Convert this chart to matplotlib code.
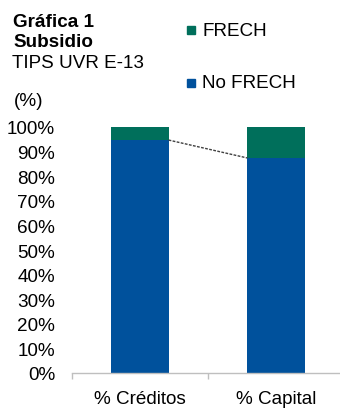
import matplotlib
matplotlib.use("Agg")
import matplotlib.pyplot as plt

categories = ["% Créditos", "% Capital"]
no_frech = [94.7, 87.4]
frech = [5.3, 12.6]
yticks = [0, 10, 20, 30, 40, 50, 60, 70, 80, 90, 100]

BLUE = "#00519C"
GREEN = "#006F5B"
FS = 13.6
plt.rcParams['font.family'] = ['Liberation Sans', 'DejaVu Sans']

W, H = 340, 410
fig = plt.figure(figsize=(W / 100, H / 100), dpi=100)
ax = fig.add_axes([72 / W, (H - 374) / H, 272 / W, 246 / H])

x = list(range(len(categories)))
bw = 0.42
ax.bar(x, no_frech, width=bw, color=BLUE, zorder=2)
ax.bar(x, frech, width=bw, bottom=no_frech, color=GREEN, zorder=2)

# series line between blue tops
ax.plot([x[0] + bw / 2, x[1] - bw / 2], [no_frech[0], no_frech[1]],
        color="#404040", lw=1.0, ls=(0, (2, 1)), zorder=3)

ax.set_xlim(-0.5, 1.5)
ax.set_ylim(0, 100)
ax.set_yticks(yticks)
ax.set_yticklabels([f"{v}%" for v in yticks], fontsize=FS)
ax.tick_params(axis='y', length=0, pad=12.2)
ax.set_xticks([-0.5, 0.5, 1.5])
ax.set_xticklabels([])
ax.set_xticks(x, minor=True)
ax.set_xticklabels(categories, minor=True, fontsize=FS)
ax.tick_params(axis='x', which='major', length=4.3, color="#BFBFBF", width=1)
ax.tick_params(axis='x', which='minor', length=0, pad=12.5)
for s in ["top", "right", "left"]:
    ax.spines[s].set_visible(False)
ax.spines["bottom"].set_color("#BFBFBF")
ax.spines["bottom"].set_linewidth(1)

# titles
fig.text(13 / W, 1 - 27 / H, "Gráfica 1", fontsize=FS, fontweight="bold", va="baseline")
fig.text(13 / W, 1 - 47 / H, "Subsidio", fontsize=FS, fontweight="bold", va="baseline")
fig.text(12 / W, 1 - 68.5 / H, "TIPS UVR E-13", fontsize=FS, va="baseline")
fig.text(14 / W, 1 - 102 / H, "(%)", fontsize=FS, va="center")

# legend
for yc, lab, col in [(31, "FRECH", GREEN), (84, "No FRECH", BLUE)]:
    fig.patches.append(plt.Rectangle(((191 - 4) / W, 1 - (yc + 4) / H), 8 / W, 8 / H,
                                     transform=fig.transFigure, color=col, figure=fig))
    fig.text(202 / W, 1 - yc / H, lab, fontsize=FS, va="center")

fig.savefig("out.png", dpi=100)
